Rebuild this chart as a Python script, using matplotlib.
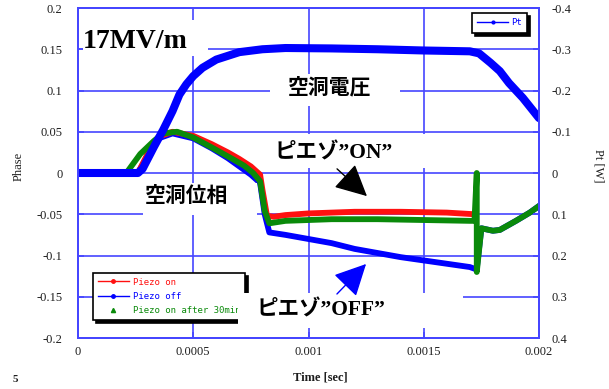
import matplotlib
matplotlib.use("Agg")
import matplotlib.pyplot as plt
from matplotlib.lines import Line2D
from matplotlib.patches import Rectangle, FancyArrowPatch

# --- data -------------------------------------------------------------
# cavity voltage monitor Pt [W] (right axis, drawn inverted)
t_pt = [0, 0.00026, 0.00028, 0.00033, 0.00037, 0.00041, 0.00044, 0.00047,
        0.0005, 0.00054, 0.0006, 0.0007, 0.0008, 0.0009, 0.0011, 0.0013,
        0.0015, 0.0017, 0.00174, 0.00179, 0.00183, 0.00187, 0.00193, 0.002]
pt = [0, 0, -0.01, -0.064, -0.105, -0.15, -0.19, -0.215,
      -0.235, -0.255, -0.275, -0.293, -0.3, -0.303, -0.302, -0.3,
      -0.297, -0.295, -0.29, -0.267, -0.247, -0.218, -0.182, -0.133]

# cavity phase, piezo off
t_off = [0, 0.00026, 0.0003, 0.00035, 0.00041, 0.0005, 0.00058, 0.00065,
         0.0007, 0.00075, 0.00079, 0.00081, 0.00083, 0.0009, 0.001, 0.0011,
         0.0012, 0.0013, 0.0014, 0.0015, 0.0016, 0.0017, 0.00172, 0.00173,
         0.00175, 0.0018, 0.00183, 0.0019, 0.00196, 0.002]
phase_off = [0, 0, 0.02, 0.042, 0.048, 0.042, 0.03, 0.018,
             0.008, -0.002, -0.012, -0.05, -0.072, -0.075, -0.08, -0.085,
             -0.092, -0.097, -0.102, -0.106, -0.11, -0.114, -0.116, -0.116,
             -0.067, -0.07, -0.069, -0.058, -0.048, -0.04]

# cavity phase, piezo on
t_on = [0, 0.00026, 0.0003, 0.00035, 0.00041, 0.0005, 0.00058, 0.00065,
        0.0007, 0.00075, 0.00079, 0.0008, 0.00082, 0.00085, 0.0009, 0.001,
        0.0012, 0.0014, 0.0016, 0.00172]
phase_on = [0, 0, 0.022, 0.044, 0.05, 0.045, 0.035, 0.025,
            0.017, 0.008, -0.002, -0.02, -0.052, -0.053, -0.051, -0.049,
            -0.047, -0.047, -0.048, -0.05]

# cavity phase, piezo on after 30 min
t_30 = [0, 0.00021, 0.00027, 0.00033, 0.00037, 0.00043, 0.0005, 0.00058,
        0.00067, 0.00072, 0.00076, 0.00079, 0.00081, 0.00083, 0.0009, 0.0011,
        0.0013, 0.0015, 0.0017, 0.00172, 0.00173, 0.00173, 0.00175, 0.0018,
        0.00183, 0.0019, 0.00196, 0.002]
phase_30 = [0, 0, 0.023, 0.039, 0.048, 0.05, 0.043, 0.031,
            0.017, 0.009, 0.0, -0.01, -0.046, -0.061, -0.058, -0.056,
            -0.056, -0.057, -0.058, -0.058, 0.0, -0.12, -0.067, -0.07,
            -0.069, -0.058, -0.048, -0.04]

x_ticks = [0, 0.0005, 0.001, 0.0015, 0.002]
x_labels = ["0", "0.0005", "0.001", "0.0015", "0.002"]
y_ticks = [0.2, 0.15, 0.1, 0.05, 0, -0.05, -0.1, -0.15, -0.2]
y_labels = ["0.2", "0.15", "0.1", "0.05", "0", "-0.05", "-0.1", "-0.15", "-0.2"]
y2_ticks = [-0.4, -0.3, -0.2, -0.1, 0, 0.1, 0.2, 0.3, 0.4]
y2_labels = ["-0.4", "-0.3", "-0.2", "-0.1", "0", "0.1", "0.2", "0.3", "0.4"]

# --- figure -----------------------------------------------------------
W, H = 609, 389
GRID = "#4646ff"
SERIF = ["Liberation Serif", "DejaVu Serif"]
JP = ["Liberation Serif", "Noto Sans CJK JP", "DejaVu Sans"]


def fx(px):
    return px / W


def fy(py):
    return 1 - py / H


fig = plt.figure(figsize=(W / 100, H / 100), dpi=100)
ax = fig.add_axes([fx(78), fy(338), (539 - 78) / W, (338 - 8) / H])
ax2 = ax.twinx()

ax.plot(t_off, phase_off, color="#0000ff", lw=4.2, solid_joinstyle="round")
ax.plot(t_on, phase_on, color="#ff1010", lw=4.2, solid_joinstyle="round")
ax.plot(t_30, phase_30, color="#0a8a0a", lw=4.2, solid_joinstyle="round")
ax2.plot(t_pt, pt, color="#0000ff", lw=5.8, solid_joinstyle="round",
         solid_capstyle="round")

ax.set_xlim(0, 0.002)
ax.set_ylim(-0.2, 0.2)
ax2.set_ylim(0.4, -0.4)

ax.set_xticks(x_ticks, x_labels)
ax.set_yticks(y_ticks, y_labels)
ax2.set_yticks(y2_ticks, y2_labels)
ax.grid(True, color=GRID, lw=1.2)
ax.set_axisbelow(True)

for a in (ax, ax2):
    for sp in a.spines.values():
        sp.set_color(GRID)
        sp.set_linewidth(1.4)
    a.tick_params(colors=GRID, direction="in", length=4, width=1.2)
    for lab in a.get_xticklabels() + a.get_yticklabels():
        lab.set_fontfamily(SERIF)
        lab.set_fontsize(9)
        lab.set_color("#1e1e1e")
ax.tick_params(axis="y", pad=11)
ax.tick_params(axis="x", pad=6)
ax2.tick_params(axis="y", pad=9)

# legends
leg_handles = [
    Line2D([], [], color="#ff1010", lw=1, marker="o", markersize=2.5,
           label="Piezo on"),
    Line2D([], [], color="#0000ff", lw=1, marker="o", markersize=2.5,
           label="Piezo off"),
    Line2D([], [], color="#0a8a0a", ls="none", marker="^", markersize=3,
           label="Piezo on after 30min"),
]
leg = ax.legend(handles=leg_handles, loc="upper left",
                bbox_to_anchor=(fx(93), fy(273)), bbox_transform=fig.transFigure,
                borderaxespad=0, fancybox=False, edgecolor="black",
                framealpha=1, handlelength=3.5, handletextpad=0.45,
                labelspacing=0.6, borderpad=0.5, labelcolor="linecolor",
                prop={"family": "DejaVu Sans Mono", "size": 6.5},
                shadow={"ox": 2, "oy": -2, "color": "black", "alpha": 1})
leg.get_frame().set_linewidth(1.2)

leg2 = ax2.legend(handles=[Line2D([], [], color="#0000ff", lw=1, marker="o",
                                  markersize=2, label="Pt")],
                  loc="upper right", bbox_to_anchor=(fx(527), fy(13)),
                  bbox_transform=fig.transFigure, borderaxespad=0,
                  fancybox=False, edgecolor="black", framealpha=1,
                  handlelength=3.4, handletextpad=0.3, borderpad=0.6,
                  labelcolor="linecolor",
                  prop={"family": "DejaVu Sans Mono", "size": 6.5},
                  shadow={"ox": 2, "oy": -2, "color": "black", "alpha": 1})
leg2.get_frame().set_linewidth(1.2)

# white label backgrounds (x0, y0, x1, y1 in pixels)
boxes = [(83, 20, 208, 56), (270, 74, 400, 106), (143, 183, 257, 215),
         (268, 134, 430, 168), (238, 293, 463, 328)]
for x0, y0, x1, y1 in boxes:
    fig.add_artist(Rectangle((fx(x0), fy(y1)), (x1 - x0) / W, (y1 - y0) / H,
                             transform=fig.transFigure, facecolor="white",
                             edgecolor="none", zorder=2))

fig.text(fx(83), fy(48), "17MV/m", family=SERIF, weight="bold", size=20,
         va="baseline", ha="left", zorder=3)
fig.text(fx(330), fy(88), "空洞電圧", family=JP, weight="bold", size=15,
         va="center", ha="center", zorder=3)
fig.text(fx(187), fy(197), "空洞位相", family=JP, weight="bold", size=15,
         va="center", ha="center", zorder=3)
fig.text(fx(275), fy(153), "ピエゾ”ON”", family=JP, weight="bold", size=15.5,
         va="center", ha="left", zorder=3)
fig.text(fx(257), fy(310), "ピエゾ”OFF”", family=JP, weight="bold", size=15.5,
         va="center", ha="left", zorder=3)

arrow_style = "-|>,head_length=0.9,head_width=0.45"
fig.add_artist(FancyArrowPatch((fx(335), fy(167)), (fx(369), fy(198)),
                               transform=fig.transFigure, arrowstyle=arrow_style,
                               mutation_scale=22, color="black", lw=1, zorder=4))
fig.add_artist(FancyArrowPatch((fx(335), fy(296)), (fx(368), fy(262)),
                               transform=fig.transFigure, arrowstyle=arrow_style,
                               mutation_scale=22, color="#0000ff", lw=1, zorder=4))

# axis titles
fig.text(fx(19), fy(166), "Phase", family=SERIF, size=9, rotation=90,
         va="center", ha="center", color="#1e1e1e")
fig.text(fx(598), fy(166), "Pt [W]", family=SERIF, size=9, rotation=270,
         va="center", ha="center", color="#1e1e1e")
fig.text(fx(320), fy(378), "Time [sec]", family=SERIF, size=9, weight="bold",
         va="center", ha="center", color="#1e1e1e")
fig.text(fx(15), fy(379), "5", family=SERIF, size=8, weight="bold",
         va="center", ha="center", color="#1e1e1e")

fig.savefig("out.png", dpi=100)
